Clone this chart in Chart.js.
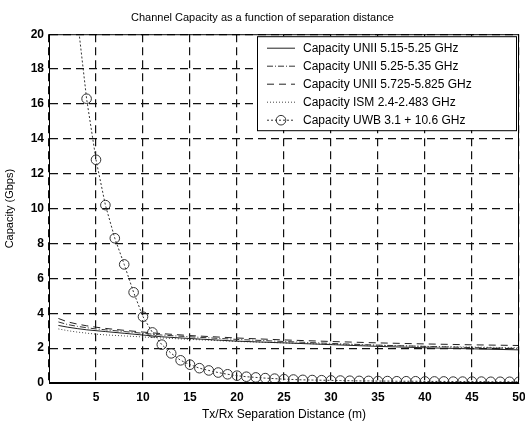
<!DOCTYPE html>
<html>
<head>
<meta charset="utf-8">
<title>Channel Capacity</title>
<script src="https://cdn.jsdelivr.net/npm/chart.js@4/dist/chart.umd.min.js"></script>
<style>
  html, body { margin: 0; padding: 0; background: #fff; }
  #wrap { width: 525px; height: 427px; position: relative; }
</style>
</head>
<body>
<div id="wrap"><canvas id="myChart"></canvas></div>
<script>
// ── Data ─────────────────────────────────────
const seriesLabels = [
  'Capacity UNII 5.15-5.25 GHz',
  'Capacity UNII 5.25-5.35 GHz',
  'Capacity UNII 5.725-5.825 GHz',
  'Capacity ISM 2.4-2.483 GHz',
  'Capacity UWB 3.1 + 10.6 GHz'
];

// distances (m) for the four narrow-band curves
const distNB = [1, 2, 3, 4, 5, 6, 8, 10, 12, 15, 20, 25, 30, 35, 40, 45, 50];
const unii1  = [3.3, 3.2, 3.12, 3.05, 3.0, 2.95, 2.85, 2.75, 2.65, 2.55, 2.4, 2.3, 2.2, 2.1, 2.02, 1.96, 1.9];
const unii2  = [3.5, 3.35, 3.25, 3.17, 3.1, 3.05, 2.95, 2.85, 2.75, 2.65, 2.5, 2.38, 2.27, 2.17, 2.1, 2.03, 1.98];
const unii3  = [3.7, 3.5, 3.38, 3.28, 3.2, 3.13, 3.02, 2.92, 2.83, 2.72, 2.58, 2.47, 2.38, 2.3, 2.24, 2.19, 2.15];
const ism    = [3.1, 3.0, 2.92, 2.86, 2.8, 2.76, 2.7, 2.64, 2.58, 2.5, 2.38, 2.3, 2.22, 2.16, 2.1, 2.06, 2.02];

// UWB curve, one marker per metre from 3 m to 50 m
const distUWB = [3, 4, 5, 6, 7, 8, 9, 10, 11, 12, 13, 14, 15, 16, 17, 18, 19, 20, 21, 22, 23, 24, 25, 26,
                 27, 28, 29, 30, 31, 32, 33, 34, 35, 36, 37, 38, 39, 40, 41, 42, 43, 44, 45, 46, 47, 48, 49, 50];
const uwb    = [21.0, 16.3, 12.8, 10.2, 8.3, 6.8, 5.2, 3.8, 2.9, 2.2, 1.7, 1.3, 1.05, 0.85, 0.72, 0.6, 0.5, 0.42,
                0.36, 0.32, 0.28, 0.25, 0.22, 0.2, 0.18, 0.17, 0.16, 0.15, 0.14, 0.13, 0.12, 0.12, 0.11, 0.11,
                0.1, 0.1, 0.1, 0.09, 0.09, 0.09, 0.08, 0.08, 0.08, 0.08, 0.07, 0.07, 0.07, 0.07];

const xTicks = [0, 5, 10, 15, 20, 25, 30, 35, 40, 45, 50];
const yTicks = [0, 2, 4, 6, 8, 10, 12, 14, 16, 18, 20];

const FONT = '"Liberation Sans", Arial, Helvetica, sans-serif';

function pts(xs, ys) {
  return xs.map((x, i) => ({ x: x, y: ys[i] }));
}

// ── Box round the plot + legend box inside (MATLAB style) ──
const boxLegend = {
  id: 'boxLegend',
  afterDatasetsDraw(chart) {
    const { ctx, chartArea: a } = chart;
    ctx.save();
    ctx.strokeStyle = '#000';
    ctx.lineWidth = 1;
    ctx.setLineDash([]);
    ctx.strokeRect(a.left + 0.5, a.top + 0.5, a.right - a.left - 1, a.bottom - a.top - 1);

    // legend, tucked into the top-right corner
    const bw = 259, bh = 94, rowH = 18;
    const bx = a.right - bw - 3, by = a.top + 2;
    ctx.fillStyle = '#fff';
    ctx.fillRect(bx, by, bw, bh);
    ctx.strokeRect(bx + 0.5, by + 0.5, bw, bh);
    ctx.font = '12px ' + FONT;
    ctx.textBaseline = 'middle';
    chart.data.datasets.forEach((ds, i) => {
      const y = by + 12 + i * rowH;
      ctx.strokeStyle = ds.borderColor;
      ctx.lineWidth = ds.borderWidth;
      ctx.setLineDash(ds.borderDash || []);
      ctx.beginPath();
      ctx.moveTo(bx + 10, y);
      ctx.lineTo(bx + 38, y);
      ctx.stroke();
      if (ds.pointRadius > 0) {
        ctx.setLineDash([]);
        ctx.beginPath();
        ctx.arc(bx + 24, y, ds.pointRadius, 0, Math.PI * 2);
        ctx.stroke();
      }
      ctx.fillStyle = '#000';
      ctx.fillText(ds.label, bx + 46, y);
    });
    ctx.restore();
  }
};

const ctx = document.getElementById('myChart').getContext('2d');

new Chart(ctx, {
  type: 'line',
  data: {
    datasets: [
      { label: seriesLabels[0], data: pts(distNB, unii1), borderColor: '#222', borderWidth: 1, borderDash: [], pointRadius: 0 },
      { label: seriesLabels[1], data: pts(distNB, unii2), borderColor: '#333', borderWidth: 1, borderDash: [6, 2, 1, 2], pointRadius: 0 },
      { label: seriesLabels[2], data: pts(distNB, unii3), borderColor: '#222', borderWidth: 1, borderDash: [7, 5], pointRadius: 0 },
      { label: seriesLabels[3], data: pts(distNB, ism), borderColor: '#444', borderWidth: 1, borderDash: [1, 2], pointRadius: 0 },
      {
        label: seriesLabels[4], data: pts(distUWB, uwb), borderColor: '#333', borderWidth: 1, borderDash: [2, 2],
        pointRadius: 4.8, pointStyle: 'circle', pointBorderColor: '#333', pointBackgroundColor: 'rgba(0,0,0,0)',
        pointBorderWidth: 1
      }
    ]
  },
  options: {
    responsive: true,
    maintainAspectRatio: false,
    animation: false,
    layout: { padding: { left: 0, right: 0, top: 0, bottom: 0 } },
    plugins: {
      legend: { display: false },
      tooltip: { enabled: false },
      title: {
        display: true,
        text: 'Channel Capacity as a function of separation distance',
        color: '#000',
        font: { family: FONT, size: 11, weight: 'normal' },
        padding: { top: 11, bottom: 10 }
      }
    },
    scales: {
      x: {
        type: 'linear',
        min: 0, max: 50,
        afterBuildTicks: axis => { axis.ticks = xTicks.map(v => ({ value: v })); },
        afterFit: axis => { axis.height = 44; axis.paddingRight = 6; },
        grid: { color: '#111', lineWidth: 1.2, drawTicks: false },
        border: { display: true, color: '#000', dash: [8, 5] },
        ticks: { color: '#000', font: { family: FONT, size: 12, weight: 'bold' }, padding: 7, maxRotation: 0 },
        title: {
          display: true, text: 'Tx/Rx Separation Distance (m)', color: '#000',
          font: { family: FONT, size: 12 }, padding: { top: 0, bottom: 5 }
        }
      },
      y: {
        min: 0, max: 20,
        afterBuildTicks: axis => { axis.ticks = yTicks.map(v => ({ value: v })); },
        afterFit: axis => { axis.width = 49; },
        grid: { color: '#111', lineWidth: 1.2, drawTicks: false },
        border: { display: true, color: '#000', dash: [8, 5] },
        ticks: { color: '#000', font: { family: FONT, size: 12, weight: 'bold' }, padding: 5 },
        title: {
          display: true, text: 'Capacity (Gbps)', color: '#000',
          font: { family: FONT, size: 11 }, padding: { top: 3, bottom: 0 }
        }
      }
    }
  },
  plugins: [boxLegend]
});
</script>
</body>
</html>
